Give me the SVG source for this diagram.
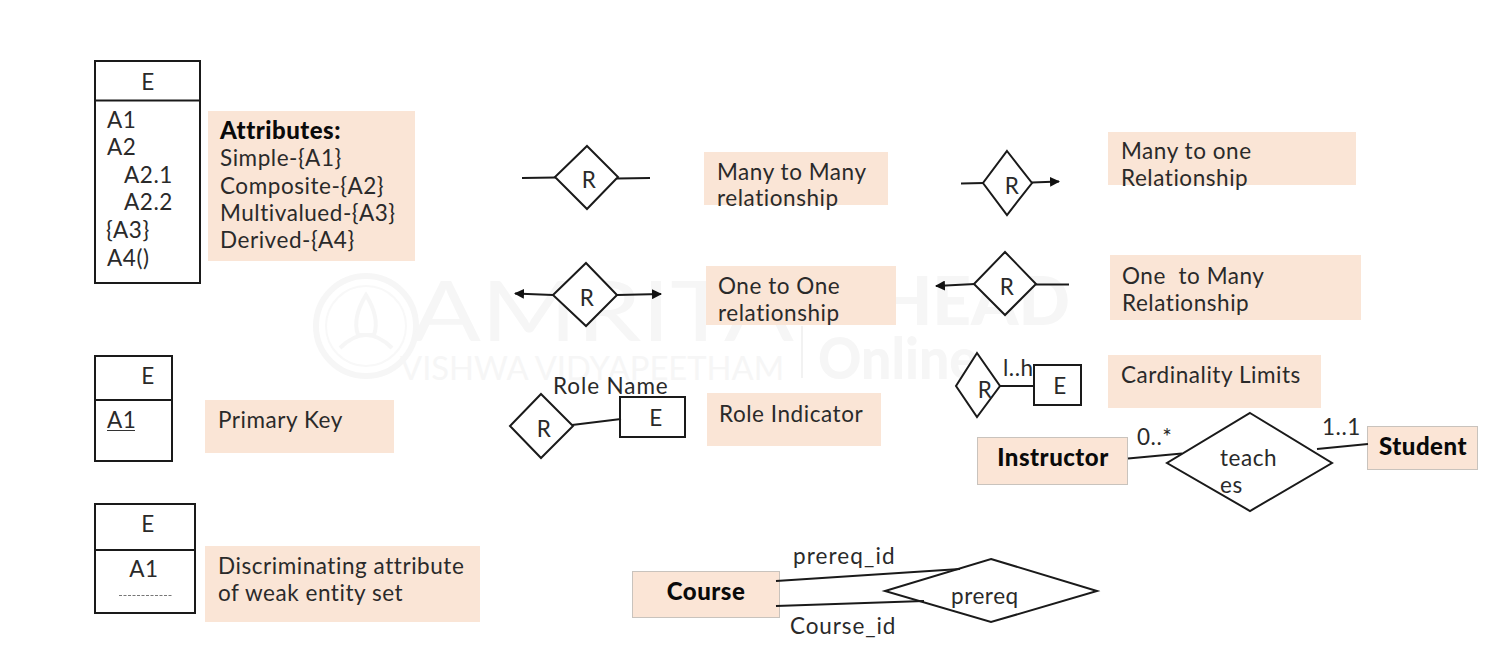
<svg xmlns="http://www.w3.org/2000/svg" width="1491" height="662" viewBox="0 0 1491 662">
<style>
text{font-family:"Lato","Noto Sans",sans-serif;font-size:22.500px;fill:#2a2a2a;letter-spacing:.55px}
.b{font-size:24px;font-weight:900;letter-spacing:.5px;fill:#0a0a0a}
.m{text-anchor:middle}
.note{fill:#fae5d6;stroke:none}
.ent{fill:#fbe5d6;stroke:#c9c3bd;stroke-width:1}
.s{fill:#fff;stroke:#1a1a1a;stroke-width:2}
.l{fill:none;stroke:#1a1a1a;stroke-width:2}
.wm{fill:#f6f6f6;letter-spacing:0}
</style>
<defs>
<marker id="a" viewBox="0 0 10 10" refX="9" refY="5" markerWidth="5" markerHeight="5" orient="auto"><path d="M0 0L10 5L0 10z" fill="#111"/></marker>
</defs>
<rect width="1491" height="662" fill="#fff"/>
<g id="watermark">
<circle cx="366" cy="326" r="50" fill="none" stroke="#f6f6f6" stroke-width="6"/>
<circle cx="366" cy="326" r="40" fill="none" stroke="#f8f8f8" stroke-width="2"/>
<path d="M340 348Q366 322 392 348M366 295Q352 318 358 335H374Q380 318 366 295z" fill="none" stroke="#f6f6f6" stroke-width="4"/>
<text class="wm" x="411" y="341" style="font-size:84px;font-weight:400" textLength="383" lengthAdjust="spacingAndGlyphs">AMRITA</text>
<text class="wm" x="400" y="380" style="font-size:33px;font-weight:400" textLength="384" lengthAdjust="spacingAndGlyphs">VISHWA VIDYAPEETHAM</text>
<text class="wm" x="818" y="379" style="font-size:58px;font-weight:900" textLength="160" lengthAdjust="spacingAndGlyphs">Online</text>
<text class="wm" x="880" y="325" style="font-size:66px;font-weight:900" textLength="190" lengthAdjust="spacingAndGlyphs">HEAD</text>
<path d="M802 326V378" stroke="#f2f2f2" stroke-width="2"/>
</g>
<g id="e-attributes">
<rect class="s" x="95" y="61" width="105" height="222"/><path class="l" d="M95 100.500H200"/>
<text class="m" x="148" y="90">E</text>
<text x="107" y="128">A1</text><text x="107" y="155">A2</text>
<text x="124" y="183">A2.1</text><text x="124" y="210">A2.2</text>
<text x="106" y="238">{A3}</text><text x="107" y="266">A4()</text>
</g>
<g id="note-attributes">
<rect class="note" x="208" y="111" width="207" height="150"/>
<text class="b" x="220" y="139">Attributes:</text>
<text x="220" y="166">Simple-{A1}</text><text x="220" y="194">Composite-{A2}</text>
<text x="220" y="221">Multivalued-{A3}</text><text x="220" y="248">Derived-{A4}</text>
</g>
<g id="e-primary">
<rect class="s" x="95" y="356" width="77" height="105"/><path class="l" d="M95 400H172"/>
<text class="m" x="148" y="384">E</text><text x="107" y="428">A1</text>
<path d="M107 430.500H135" stroke="#333" stroke-width="1"/>
</g>
<g id="note-primary"><rect class="note" x="205" y="400" width="189" height="53"/><text x="218" y="428">Primary Key</text></g>
<g id="e-weak">
<rect class="s" x="95" y="504" width="100" height="109"/><path class="l" d="M95 550H195"/>
<text class="m" x="148" y="532">E</text><text class="m" x="144" y="577">A1</text>
<path d="M119 595.500H172" stroke="#777" stroke-width="1" stroke-dasharray="3 1.500"/>
</g>
<g id="note-weak"><rect class="note" x="205" y="546" width="275" height="76"/>
<text x="218" y="574">Discriminating attribute</text><text x="218" y="601">of weak entity set</text></g>
<g id="r-many-many"><path class="s" d="M587 146L618 177L587 209L555 177z"/><text class="m" x="589" y="188">R</text></g>
<g id="note-mm"><rect class="note" x="704" y="152" width="184" height="53"/><text x="717" y="180">Many to Many</text><text x="717" y="206">relationship</text></g>
<g id="r-many-one"><path class="s" d="M1007 151L1032 183L1007 215L983 183z"/><text class="m" x="1012" y="194">R</text></g>
<g id="note-m1"><rect class="note" x="1108" y="132" width="248" height="53"/><text x="1121" y="159">Many to one</text><text x="1121" y="186">Relationship</text></g>
<g id="r-one-one"><path class="s" d="M586 263L617 295L586 326L553 295z"/><text class="m" x="587" y="306">R</text></g>
<g id="note-11"><rect class="note" x="706" y="266" width="190" height="59"/><text x="718" y="294">One to One</text><text x="718" y="321">relationship</text></g>
<g id="r-one-many"><path class="s" d="M1005 252L1036 284L1005 315L974 284z"/><text class="m" x="1007" y="295">R</text></g>
<g id="note-1m"><rect class="note" x="1110" y="255" width="251" height="65"/><text x="1122" y="284" style="white-space:pre">One  to Many</text><text x="1122" y="311">Relationship</text></g>
<g id="r-role"><path class="s" d="M541 394L573 426L541 458L510 426z"/><text class="m" x="544" y="437">R</text></g>
<g id="e-role"><rect class="s" x="620" y="397" width="65" height="40"/><text class="m" x="656" y="426">E</text></g>
<text x="553" y="394" style="letter-spacing:.9px">Role Name</text>
<g id="note-role"><rect class="note" x="707" y="393" width="174" height="53"/><text x="719" y="422">Role Indicator</text></g>
<g id="r-card"><path class="s" d="M977 353L1000 386L977 417L956 386z"/><text class="m" x="985" y="398">R</text></g>
<g id="e-card"><rect class="s" x="1034" y="365" width="47" height="40"/><text class="m" x="1060" y="394">E</text></g>
<text x="1003" y="376">l..h</text>
<g id="note-card"><rect class="note" x="1108" y="355" width="213" height="53"/><text x="1121" y="383">Cardinality Limits</text></g>
<g id="instructor"><rect class="ent" x="977.500" y="437.500" width="150" height="47"/><text class="b m" x="1053" y="466">Instructor</text></g>
<g id="teaches"><path class="s" d="M1250 413L1332 463L1250 511L1167 463z"/><text x="1220" y="466">teach</text><text x="1220" y="493">es</text></g>
<g id="student"><rect class="ent" x="1367.500" y="426.500" width="110" height="43"/><text class="b m" x="1423" y="455">Student</text></g>
<text x="1137" y="445">0..*</text><text x="1322" y="435">1..1</text>
<g id="course"><rect class="ent" x="632.500" y="571.500" width="147" height="46"/><text class="b m" x="706" y="600">Course</text></g>
<g id="prereq"><path class="s" d="M991 559L1097 591L991 622L885 591z"/><text x="951" y="604">prereq</text></g>
<text x="793" y="564" style="letter-spacing:1.100px">prereq_id</text><text x="790" y="634" style="letter-spacing:.9px">Course_id</text>
<g id="connectors">
<path class="l" d="M522 178L556 177.500M617 178.500L650 178"/>
<path class="l" d="M961 183.500L984 183"/>
<path class="l" d="M1032 182.500L1059 181.500" marker-end="url(#a)"/>
<path class="l" d="M553 295L515 293.500" marker-end="url(#a)"/>
<path class="l" d="M617 295L661 294" marker-end="url(#a)"/>
<path class="l" d="M975 284L936 286" marker-end="url(#a)"/>
<path class="l" d="M1036 284.500H1069"/>
<path class="l" d="M572 425L621 419"/>
<path class="l" d="M1000 386H1034"/>
<path class="l" d="M1128 458.500L1182 453.500"/>
<path class="l" d="M1317 449L1368 444"/>
<path class="l" d="M776 581L960 569"/>
<path class="l" d="M776 606L924 601"/>
</g>
</svg>
